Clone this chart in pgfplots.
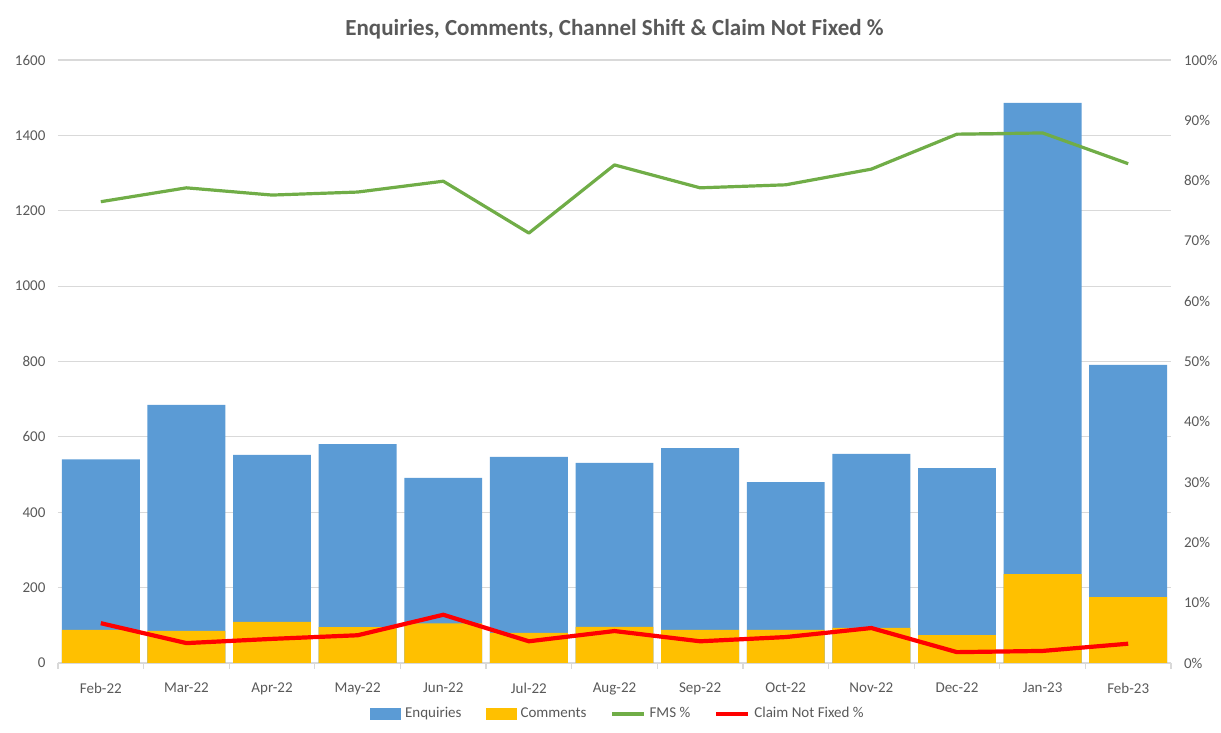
\documentclass[border=0pt]{standalone}
\usepackage{fontspec}
\setmainfont{Carlito}
\usepackage{pgfplots}
\pgfplotsset{compat=1.18}
\definecolor{enq}{HTML}{5B9BD5}
\definecolor{com}{HTML}{FFC000}
\definecolor{fms}{HTML}{70AD47}
\definecolor{cnf}{HTML}{FF0000}
\definecolor{txt}{HTML}{595959}
\definecolor{gridc}{HTML}{D9D9D9}

\begin{document}
\begin{tikzpicture}
\pgfplotsset{
  base/.style={
    scale only axis, width=556.5pt, height=301.5pt,
    at={(0,0)}, anchor=south west,
    xmin=-0.5, xmax=12.5,
    /pgf/number format/assume math mode=true,
    /pgf/number format/1000 sep={},
    tick label style={font=\fontsize{7.5}{8}\selectfont, text=txt},
    ytick style={draw=none},
  }
}
\begin{axis}[base,
  ymin=0, ymax=1600, ytick={0,200,...,1600},
  ymajorgrids, grid style={draw=gridc, line width=0.6pt},
  axis x line*=bottom, axis y line*=left,
  x axis line style={draw=gridc, line width=0.6pt},
  y axis line style={draw=none},
  xtick={0,...,12},
  xticklabels={Feb-22,Mar-22,Apr-22,May-22,Jun-22,Jul-22,Aug-22,Sep-22,Oct-22,Nov-22,Dec-22,Jan-23,Feb-23},
  major x tick style={draw=none},
  minor xtick={-0.5,0.5,...,12.5},
  minor x tick style={draw=gridc, line width=0.6pt},
  tick align=outside, minor tick length=3pt,
  xticklabel style={yshift=-2pt},
  yticklabel style={xshift=1.5pt},
  title={Enquiries, Comments, Channel Shift \& Claim Not Fixed \%},
  title style={at={(0.5,1)}, anchor=center, yshift=9.5pt,
    font=\bfseries\fontsize{11.5}{13}\selectfont, text=txt},
]
\addplot[ybar, bar width=0.91, bar shift=0pt, fill=enq, draw=none] coordinates {
(0,540) (1,685) (2,552) (3,581) (4,491) (5,547) (6,531) (7,570) (8,480) (9,555) (10,517) (11,1486) (12,791)};
\addplot[ybar, bar width=0.91, bar shift=0pt, fill=com, draw=none] coordinates {
(0,88) (1,85) (2,109) (3,95) (4,105) (5,80) (6,96) (7,88) (8,88) (9,93) (10,74) (11,236) (12,175)};
\end{axis}

\begin{axis}[base,
  ymin=0, ymax=100, ytick={0,10,...,100},
  axis x line=none, axis y line*=right,
  y axis line style={draw=none},
  yticklabel={\pgfmathprintnumber{\tick}\%},
  yticklabel style={anchor=west, xshift=3pt},
  legend columns=4,
  legend style={at={(0.504,-0.0846)}, anchor=center, draw=none, fill=none,
    font=\fontsize{7.5}{8}\selectfont, text=txt,
    /tikz/every even column/.append style={column sep=10pt}},
  legend image code/.code={\draw[#1] (0cm,0cm) -- (0.56cm,0cm);},
]
\addlegendimage{legend image code/.code={\fill[enq] (0cm,-0.09cm) rectangle (0.53cm,0.09cm);}}
\addlegendentry{Enquiries}
\addlegendimage{legend image code/.code={\fill[com] (0cm,-0.09cm) rectangle (0.53cm,0.09cm);}}
\addlegendentry{Comments}
\addplot[fms, line width=1.6pt, line join=round, no markers] coordinates {
(0,76.5) (1,78.8) (2,77.6) (3,78.1) (4,79.9) (5,71.3) (6,82.6) (7,78.8) (8,79.3) (9,81.9) (10,87.7) (11,87.9) (12,82.8)};
\addlegendentry{FMS \%}
\addplot[cnf, line width=2.1pt, line join=round, no markers] coordinates {
(0,6.6) (1,3.3) (2,4.0) (3,4.6) (4,8.0) (5,3.6) (6,5.3) (7,3.6) (8,4.3) (9,5.8) (10,1.8) (11,2.0) (12,3.2)};
\addlegendentry{Claim Not Fixed \%}
\end{axis}
\pgfresetboundingbox
\path (-29pt,-35pt) rectangle (581.5pt,331.5pt);
\end{tikzpicture}
\end{document}
